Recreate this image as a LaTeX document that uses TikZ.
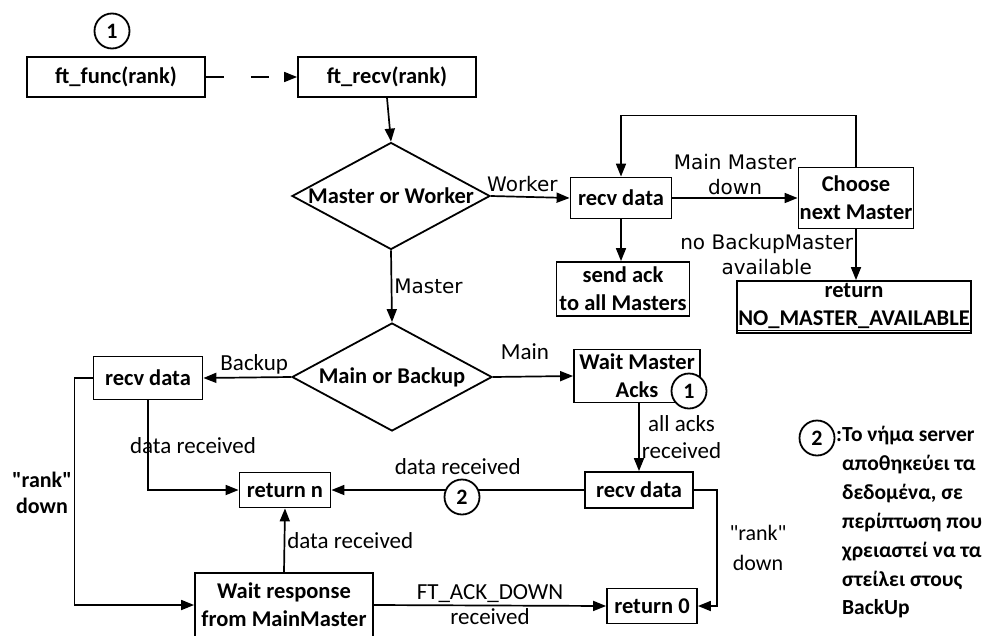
\documentclass[tikz,border=0pt]{standalone}
\usepackage{fontspec}
\setmainfont{Carlito}
\newfontfamily\notefont{DejaVu Sans}
\usetikzlibrary{positioning,arrows.meta,shapes.geometric}
\definecolor{fcInk}{RGB}{0,0,0}
\definecolor{fcPaper}{RGB}{255,255,255}
\tikzset{
    base/.style={font=\fontsize{22}{28}\selectfont, align=center, text=fcInk},
    stepbox/.style={base, rectangle, draw=fcInk, line width=1.8pt, fill=fcPaper,
                    font=\fontsize{22.5}{28}\selectfont\bfseries, inner sep=1pt},
    decision/.style={base, diamond, aspect=1.85, draw=fcInk, line width=1.8pt, fill=fcPaper,
                     font=\fontsize{22.5}{28}\selectfont\bfseries, inner sep=0pt},
    marker/.style={base, circle, draw=fcInk, line width=1.8pt, fill=fcPaper,
                   font=\fontsize{22}{22}\selectfont\bfseries, inner sep=0pt, minimum size=35pt},
    flow/.style={-{Triangle[length=13pt,width=10pt]}, line width=1.7pt, color=fcInk},
    edgetext/.style={base, font=\fontsize{23}{27}\selectfont, inner sep=2pt},
    note/.style={base, font=\notefont\fontsize{20}{25}\selectfont, inner sep=2pt},
    gloss/.style={font=\fontsize{21.5}{28.9}\selectfont\bfseries, align=left, inner sep=0pt}
}

\begin{document}
\begin{tikzpicture}[x=1pt, y=-1pt, line join=miter]
    \useasboundingbox (0,0) rectangle (991,635);

    % Entry
    \node[marker] (m1) at (112,31) {1};
    \node[stepbox, minimum width=178pt, minimum height=40pt] (ffunc) at (116,77) {ft\_func(rank)};
    \node[stepbox, minimum width=178pt, minimum height=40pt] (frecv) at (387,77) {ft\_recv(rank)};

    % Worker branch
    \node[decision, minimum width=198pt, minimum height=107pt] (mw) at (391,196) {Master or Worker};
    \node[stepbox, minimum width=101pt, minimum height=41pt] (rdW) at (621,198) {recv data};
    \node[stepbox, minimum width=115pt, minimum height=61pt] (choose) at (856,198) {Choose\\next Master};
    \node[stepbox, minimum width=133pt, minimum height=54pt] (sendack) at (623,289) {send ack\\to all Masters};
    \node[stepbox, minimum width=234pt, minimum height=52pt] (noMaster) at (854,307) {return\\\underline{NO\_MASTER\_AVAILABLE}};

    % Master branch
    \node[decision, minimum width=200pt, minimum height=108pt] (mb) at (392,377) {Main or Backup};
    \node[stepbox, minimum width=109pt, minimum height=43pt] (rdB) at (148,378) {recv data};
    \node[stepbox, minimum width=126pt, minimum height=53pt] (waitAcks) at (637,376) {Wait Master\\Acks};
    \node[marker] (m1b) at (689,391) {1};
    \node[stepbox, minimum width=108pt, minimum height=36pt] (rdM) at (639,490) {recv data};
    \node[stepbox, minimum width=91pt, minimum height=35pt] (retn) at (285,490) {return n};
    \node[stepbox, minimum width=178pt, minimum height=64pt] (waitResp) at (284,605) {Wait response\\from MainMaster};
    \node[stepbox, minimum width=90pt, minimum height=35pt] (ret0) at (652,606) {return 0};

    % Connectors
    \draw[flow, dash pattern=on 18pt off 27pt] (ffunc.east) -- (frecv.west);
    \draw[flow] (frecv.south) -- (mw.north);
    \draw[flow] (mw.east) -- node[note, above=2pt, pos=0.4] (lWorker) {Worker} (rdW.west);
    \draw[flow] (rdW.east) -- node[note, above] (lDown) {Main Master\\down} (choose.west);
    \draw[flow] (choose.north) -- ++(0,-51) -| (rdW.north);
    \draw[flow] (rdW.south) -- (rdW.south |- sendack.north);
    \draw[flow] (choose.south) -- node[note, left] (lNoBackup) {no BackupMaster\\available} (choose.south |- noMaster.north);
    \draw[flow] (mw.south) -- node[note, right] (lMaster) {Master} (mb.north);
    \draw[flow] (mb.west) -- node[edgetext, above, pos=0.42] (lBackup) {Backup} (rdB.east);
    \draw[flow] (mb.east) -- node[edgetext, above=14pt, pos=0.4] (lMain) {Main} (waitAcks.west);
    \draw[flow] (rdM.north |- waitAcks.south) -- node[edgetext, right] (lAcks) {all acks\\received} (rdM.north);
    \draw[flow] (rdM.west) -- node[edgetext, above=12pt] (lDataM) {data received} (retn.east);
    \draw[flow] (rdB.south) |- (retn.west);
    \draw[flow] (rdB.west) -- ++(-18,0) |- (waitResp.west);
    \draw[flow] (waitResp.north) -- node[edgetext, right] (lDataW) {data received} (retn.south);
    \draw[flow] (waitResp.east) -- node[edgetext, above] (lAckDown) {FT\_ACK\_DOWN}
        node[edgetext, below] (lAckRecv) {received} (ret0.west);
    \draw[flow] (rdM.east) -- ++(23,0) |- (ret0.east);

    % Free labels
    \node[marker] (m2) at (462,497) {2};
    \node[edgetext] (lDataB) at (193,446) {data received};
    \node[edgetext, font=\fontsize{22}{26}\selectfont\bfseries] (lRankL) at (42,493) {\textquotedbl rank\textquotedbl\\down};
    \node[edgetext, font=\fontsize{22}{30}\selectfont] (lRankR) at (758,548) {\textquotedbl rank\textquotedbl\\down};

    % Legend
    \node[marker] (m2note) at (817,438) {2};
    \node[gloss, anchor=north west] (legend) at (836,426) {:Το νήμα server\\
        \hphantom{:}αποθηκεύει τα\\
        \hphantom{:}δεδομένα, σε\\
        \hphantom{:}περίπτωση που\\
        \hphantom{:}χρειαστεί να τα\\
        \hphantom{:}στείλει στους\\
        \hphantom{:}BackUp};
\end{tikzpicture}
\end{document}
